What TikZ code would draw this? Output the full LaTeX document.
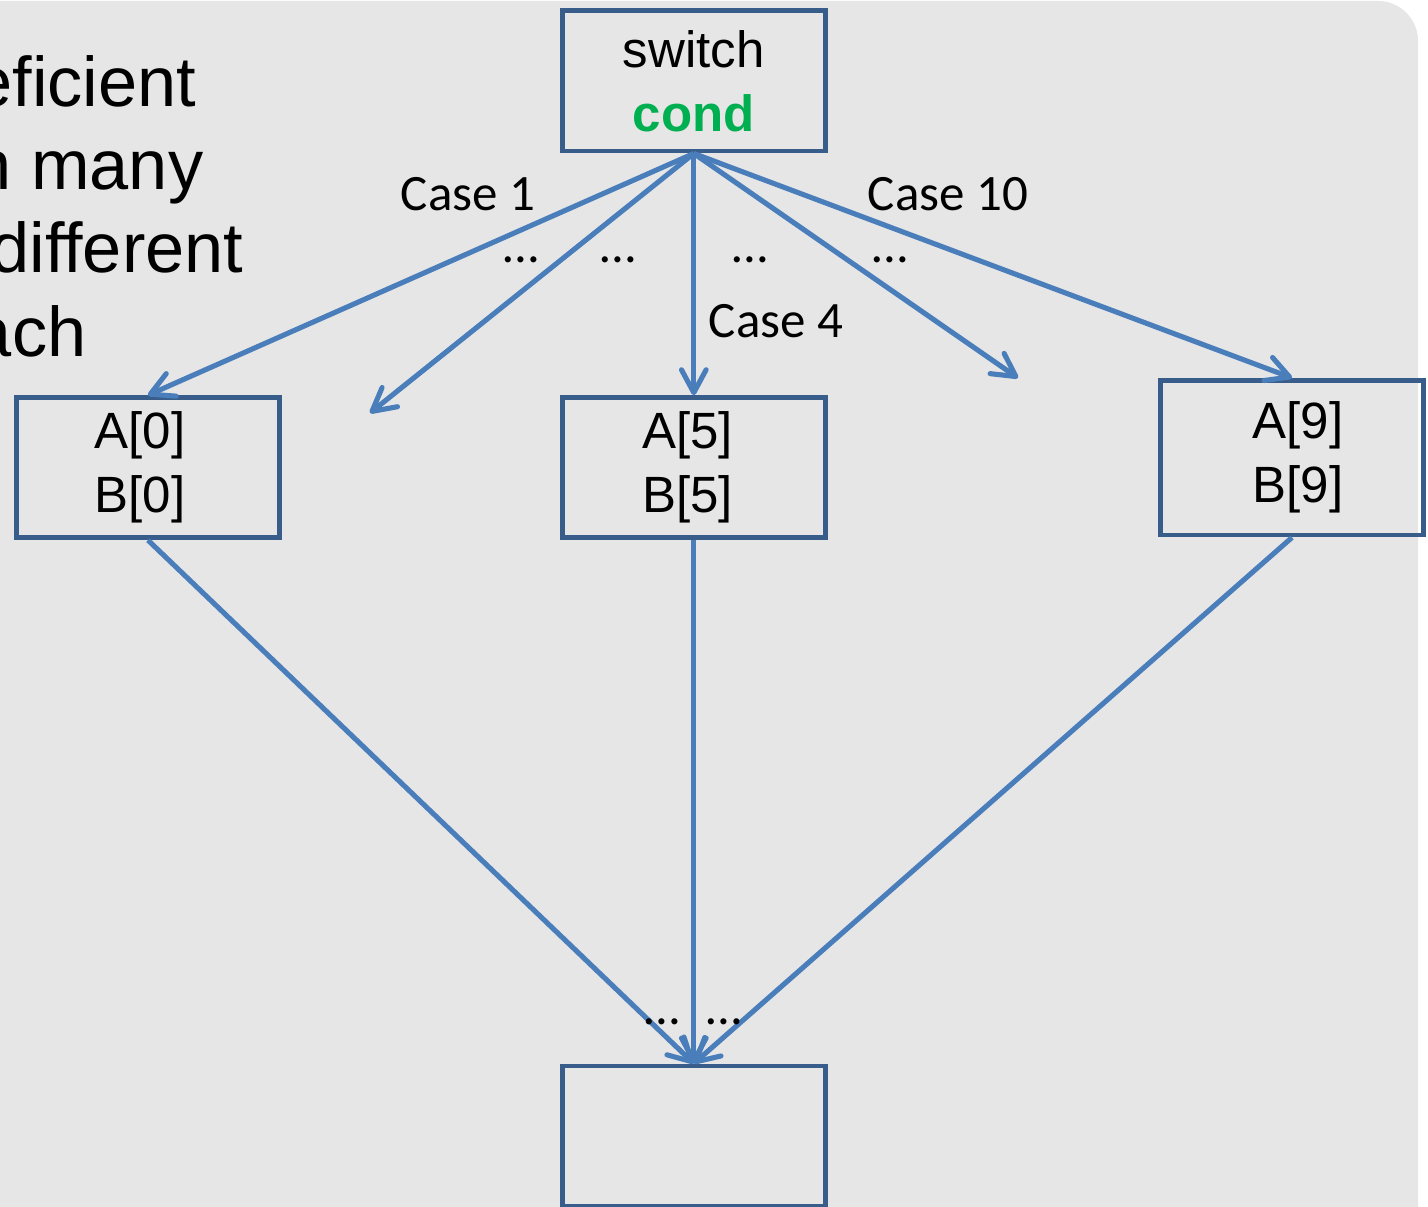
\documentclass[tikz,border=0pt]{standalone}
\usepackage{fontspec}
\setmainfont{Liberation Sans}
\newfontfamily\casefont{Carlito}
\usepackage{xcolor}
\usepackage{tikz}
\usetikzlibrary{arrows.meta}
\definecolor{boxblue}{HTML}{385D8A}
\definecolor{lineblue}{HTML}{4A7EBB}
\definecolor{bggray}{HTML}{E6E6E6}
\definecolor{condgreen}{HTML}{00B050}
\tikzset{
	box node/.style={rectangle,draw=boxblue,line width=1.4pt,minimum width=2.63cm,
		minimum height=1.4cm,align=center,inner sep=0pt,font=\fontsize{14.5}{18.2}\selectfont},
	case label/.style={font=\casefont\fontsize{14.5}{16}\selectfont,inner sep=0pt,anchor=base},
	side text/.style={font=\fontsize{20}{24}\selectfont,inner sep=0pt,anchor=base east},
	flow/.style={->,draw=lineblue,line width=1.45pt}
}

\begin{document}
\begin{tikzpicture}[x=0.01cm,y=-0.01cm,>={Straight Barb[length=6.5pt,width=7pt,round]}]
	\useasboundingbox (0,0) rectangle (1428,1207);
	\fill[bggray] (0,1207) -- (0,1) -- (1378,1) arc[start angle=90,end angle=0,radius=0.4cm] -- (1418,1207) -- cycle;
	\node[side text] (t1) at (197,107) {eficient};
	\node[side text] (t2) at (204,190) {n many};
	\node[side text] (t3) at (244,273) {different};
	\node[side text] (t4) at (87,357) {ach};
	\node[box node] (sw) at (693.8,81) {switch\\\textcolor{condgreen}{\bfseries cond}};
	\node[box node] (a0) at (148,467.7) {A[0]\hspace*{0.16cm}\\B[0]\hspace*{0.16cm}};
	\node[box node] (a5) at (693.8,467.7) {A[5]\hspace*{0.12cm}\\B[5]\hspace*{0.12cm}};
	\node[box node,minimum height=1.545cm] (a9) at (1292,457.7) {\hspace*{0.12cm}A[9]\\\hspace*{0.12cm}B[9]};
	\node[box node] (end) at (693.8,1136) {};
	\coordinate (f2) at (370,413);
	\coordinate (f4) at (1018,378);
	\draw[flow] (sw.south) -- (a0.north);
	\draw[flow] (sw.south) -- (f2);
	\draw[flow] (sw.south) -- (a5.north);
	\draw[flow] (sw.south) -- (f4);
	\draw[flow] (sw.south) -- (a9.north);
	\draw[flow] (a0.south) -- (end.north);
	\draw[flow] (a5.south) -- (end.north);
	\draw[flow] (a9.south) -- (end.north);
	\node[case label] (c1) at (468,211) {Case 1};
	\node[case label] (c10) at (948,211) {Case 10};
	\node[case label] (c4) at (776,338) {Case 4};
	\foreach \x/\n in {521/d1,618/d2,750/d3,890/d4}
		\node[case label] (\n) at (\x,263) {…};
	\node[case label] (d5) at (662,1024) {…};
	\node[case label] (d6) at (724,1024) {…};
\end{tikzpicture}
\end{document}
